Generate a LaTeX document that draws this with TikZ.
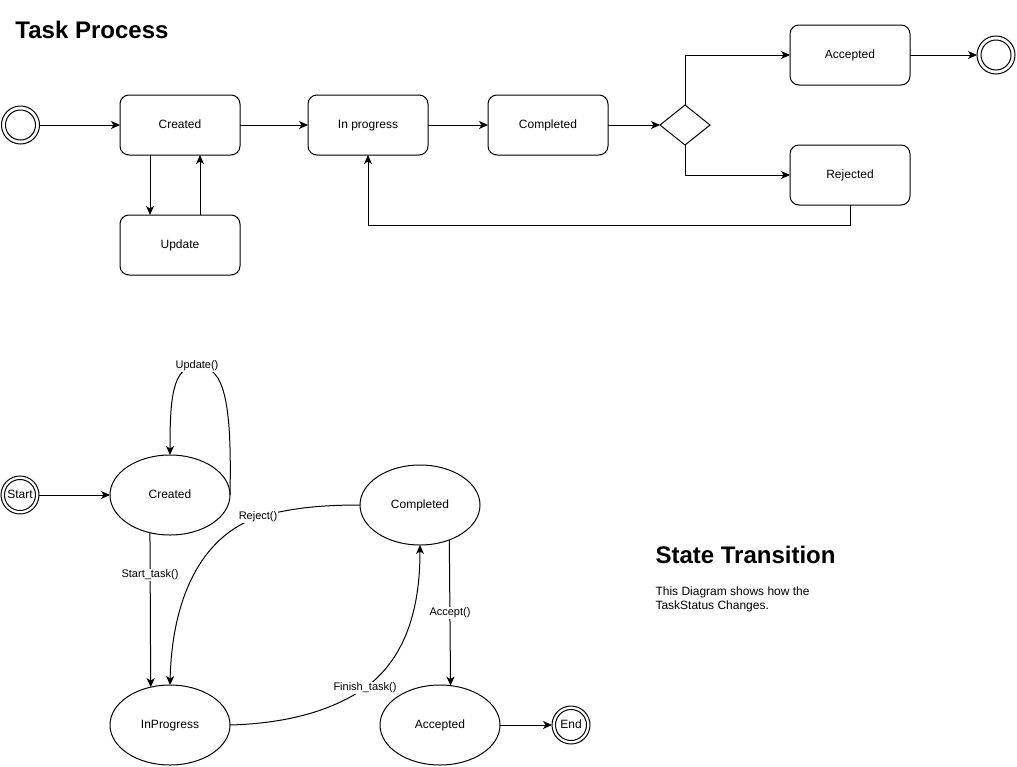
\documentclass[tikz,border=0pt]{standalone}
\usepackage{fontspec}
\setmainfont{Liberation Sans}
\usetikzlibrary{shapes.geometric,arrows.meta}
\begin{document}
\begin{tikzpicture}[x=1pt,y=-1pt, line width=1pt, font=\fontsize{12}{14}\selectfont,
 arr/.style={-{Stealth[length=9pt,width=8pt,inset=2.5pt]}},
 box/.style={draw, rounded corners=9pt, minimum width=120pt, minimum height=60pt, fill=white, inner sep=0pt, outer sep=0pt, text height=8.6pt, text depth=2.5pt},
 st/.style={draw, ellipse, minimum width=120pt, minimum height=80pt, inner sep=0pt, outer sep=0pt, text height=8.6pt, text depth=2.5pt},
 term/.style={draw, circle, minimum size=38pt, inner sep=0pt, outer sep=0pt, text height=8.6pt, text depth=2.5pt},
 lbl/.style={fill=white, inner sep=1pt, font=\fontsize{11}{13}\selectfont},
 title/.style={anchor=west, font=\bfseries\fontsize{24}{28}\selectfont, inner sep=0pt}]
\useasboundingbox (0,0) rectangle (1017,766);

% ---------- Task Process ----------
\node[title] (t1) at (15,30) {Task Process};
\node[term] (s1) at (20.5,125) {};
\draw (s1.center) circle (15);
\node[box] (cr1) at (180,125) {Created};
\node[box] (up1) at (180,245) {Update};
\node[box] (ip1) at (368,125) {In progress};
\node[box] (cp1) at (548,125) {Completed};
\node[draw, diamond, minimum width=50pt, minimum height=40pt, inner sep=0pt, outer sep=0pt, shape aspect=1.25] (dm) at (685,125) {};
\node[box] (ac1) at (850,55) {Accepted};
\node[box] (rj1) at (850,175) {Rejected};
\node[term] (e1) at (996,55) {};
\draw (e1.center) circle (15);

\draw[arr] (s1) -- (cr1);
\draw[arr] ([xshift=-30pt]cr1.south) -- ([xshift=-30pt]up1.north);
\draw[arr] ([xshift=20pt]up1.north) -- ([xshift=20pt]cr1.south);
\draw[arr] (cr1) -- (ip1);
\draw[arr] (ip1) -- (cp1);
\draw[arr] (cp1) -- (dm);
\draw[arr] (dm.north) |- (ac1.west);
\draw[arr] (dm.south) |- (rj1.west);
\draw[arr] (ac1) -- (e1);
\draw[arr] (rj1.south) -- ++(0,20) -| (ip1.south);

% ---------- State Transition ----------
\node[title] (t2) at (655,555) {State Transition};
\node[anchor=north west, align=left, inner sep=0pt] (desc) at (655,586) {This Diagram shows how the\\TaskStatus Changes.};

\node[term] (s2) at (20,495) {Start};
\draw (s2.center) circle (15.5);
\node[st] (cr2) at (170,495) {Created};
\node[st] (cp2) at (420,505) {Completed};
\node[st] (ip2) at (170,725) {InProgress};
\node[st] (ac2) at (440,725) {Accepted};
\node[term] (e2) at (571,725) {End};
\draw (e2.center) circle (15.5);

\draw[arr] (s2) -- (cr2);
\draw[arr] (cr2.east) .. controls (232,400) and (224,366) .. (197,366)
  .. controls (172,366) and (170,400) .. (cr2.north);
\node[lbl] (l1) at (197,366) {Update()};

\draw[arr] (cr2.242.05) -- (ip2.117.95);
\node[lbl] (l2) at (150,575) {Start\_task()};

\draw[arr] (cp2.west) .. controls (310,505) and (285,510) .. (258,517)
  .. controls (200,537) and (172,600) .. (ip2.north);
\node[lbl] (l3) at (258,517) {Reject()};

\draw[arr] (ip2.east) .. controls (300,723) and (340,705) .. (365,688)
  .. controls (410,655) and (420,600) .. (cp2.south);
\node[lbl] (l4) at (365,688) {Finish\_task()};

\draw[arr] (cp2.310.9) -- (ac2.75.8);
\node[lbl] (l5) at (450,613) {Accept()};

\draw[arr] (ac2) -- (e2);
\end{tikzpicture}
\end{document}
